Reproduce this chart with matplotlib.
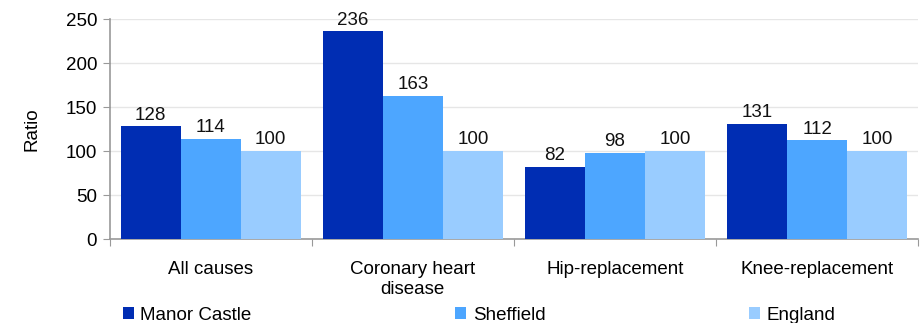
import matplotlib
matplotlib.use("Agg")
import matplotlib.pyplot as plt
import numpy as np

categories = ["All causes", "Coronary heart\ndisease", "Hip-replacement", "Knee-replacement"]
series_names = ["Manor Castle", "Sheffield", "England"]
manor_castle = [128, 236, 82, 131]
sheffield = [114, 163, 98, 112]
england = [100, 100, 100, 100]
colors = ["#002DB3", "#4DA6FF", "#99CCFF"]

FS = 13.5
plt.rcParams["font.family"] = ["Liberation Sans", "DejaVu Sans"]
plt.rcParams["font.size"] = FS

fig = plt.figure(figsize=(9.21, 3.23), dpi=100)
ax = fig.add_axes([0.119, 0.260, 0.878, 0.681])

x = np.arange(len(categories))
width = 0.297
series = [manor_castle, sheffield, england]
handles = []
for i, (vals, name, c) in enumerate(zip(series, series_names, colors)):
    bars = ax.bar(x + (i - 1) * width, vals, width, color=c, label=name, zorder=3)
    handles.append(bars)
    for b, v in zip(bars, vals):
        ax.text(b.get_x() + b.get_width() / 2, v + 3, f"{v}",
                ha="center", va="bottom", fontsize=FS, color="#111111")

ax.set_xlim(-0.5, len(categories) - 0.5)
ax.set_ylim(0, 250)
ax.set_yticks(np.arange(0, 251, 50))
ax.yaxis.grid(True, color="#E6E6E6", linewidth=1, zorder=0)
ax.set_axisbelow(True)

# category boundaries as major ticks, labels at centres
ax.set_xticks(np.arange(-0.5, len(categories), 1.0))
ax.set_xticklabels([])
ax.set_xticks(x, minor=True)
ax.set_xticklabels(categories, minor=True)
ax.tick_params(axis="x", which="minor", length=0, pad=16, labelsize=FS)
ax.tick_params(axis="x", which="major", length=5, color="#999999", direction="out")
ax.tick_params(axis="y", length=5, color="#999999", labelsize=FS, pad=4)

for side in ["top", "right"]:
    ax.spines[side].set_visible(False)
for side in ["left", "bottom"]:
    ax.spines[side].set_color("#999999")
    ax.spines[side].set_linewidth(1.2)

ax.set_ylabel("Ratio", fontsize=FS, labelpad=18)

fig.legend(handles=handles, labels=series_names, loc="lower left",
           bbox_to_anchor=(0.125, -0.025), ncol=3, frameon=False,
           handlelength=0.6, handleheight=0.6, handletextpad=0.35,
           columnspacing=10.85, fontsize=FS, borderaxespad=0)

fig.savefig("out.png", dpi=100)
